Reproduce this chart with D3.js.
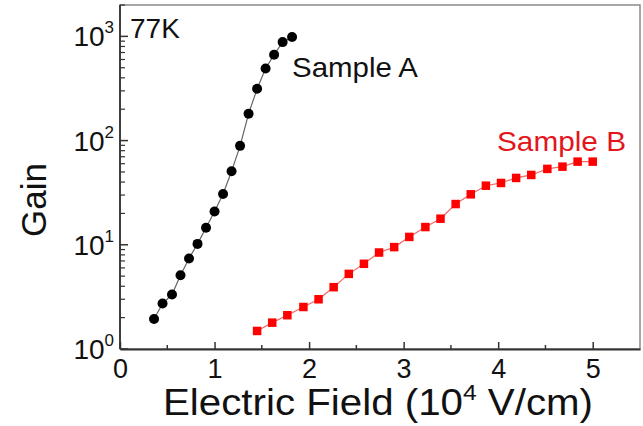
<!DOCTYPE html>
<html>
<head>
<meta charset="utf-8">
<script src="https://cdn.jsdelivr.net/npm/d3@7"></script>
<style>
  body { margin: 0; background: #fff; }
  text { font-family: "Liberation Sans", Arial, sans-serif; }
</style>
</head>
<body>
<div id="chart"></div>
<script>
// data ---------------------------------------------------------------------
var fieldA = [0.36, 0.45, 0.55, 0.64, 0.73, 0.82, 0.91, 1.0, 1.09, 1.18, 1.27, 1.36, 1.45, 1.54, 1.63, 1.72, 1.82];
var gainA  = [1.94, 2.73, 3.33, 5.1, 7.4, 10.2, 14.6, 20.9, 30.7, 50.7, 89, 181, 314, 492, 667, 881, 985];

var fieldB = [1.45, 1.61, 1.77, 1.94, 2.10, 2.26, 2.42, 2.58, 2.74, 2.90, 3.06, 3.23, 3.39, 3.55, 3.71, 3.87, 4.03, 4.19, 4.35, 4.52, 4.68, 4.84, 5.0];
var gainB  = [1.49, 1.79, 2.11, 2.53, 3.0, 3.92, 5.26, 6.57, 8.43, 9.5, 11.9, 14.8, 17.8, 24.6, 30.5, 36.9, 39.2, 43.8, 46.8, 53.5, 56.2, 62.8, 62.8];

var xTicks = [0, 1, 2, 3, 4, 5];
var xMinor = [0.5, 1.5, 2.5, 3.5, 4.5];
var yExps  = [0, 1, 2, 3];

var width = 643, height = 426;
// plot box (note: "top" is taken by window.top, so use pTop etc.)
var pLeft = 120, pRight = 640, pTop = 5, pBottom = 349;

var svg = d3.select("#chart").append("svg")
    .attr("width", width)
    .attr("height", height);

var x = d3.scaleLinear().domain([0, 5.5]).range([pLeft, pRight]);
var y = d3.scaleLog().domain([1, 2000]).range([pBottom, pTop]);

// frame ----------------------------------------------------------------------
svg.append("rect")
    .attr("x", pLeft).attr("y", pTop)
    .attr("width", pRight - pLeft).attr("height", pBottom - pTop)
    .attr("fill", "none")
    .attr("stroke", "#8a8a8a")
    .attr("stroke-width", 1.5);

// x axis, ticks pointing inward
var xAxis = svg.append("g")
    .attr("transform", "translate(0," + pBottom + ")")
    .call(d3.axisBottom(x).tickValues(xTicks).tickSizeInner(-7).tickSizeOuter(0).tickPadding(10).tickFormat(d3.format("d")));
xAxis.select(".domain").attr("stroke", "#333").attr("stroke-width", 1.8);
xAxis.selectAll(".tick line").attr("stroke", "#333").attr("stroke-width", 1.5);
xAxis.selectAll(".tick text")
    .attr("font-size", 27)
    .attr("fill", "#111")
    .attr("dy", "0.72em");

svg.append("g").selectAll("line")
    .data(xMinor)
  .enter().append("line")
    .attr("x1", x).attr("x2", x)
    .attr("y1", pBottom).attr("y2", pBottom - 4)
    .attr("stroke", "#333").attr("stroke-width", 1.5);

// y axis (log), major and minor ticks inward
svg.append("line")
    .attr("x1", pLeft).attr("x2", pLeft)
    .attr("y1", pTop).attr("y2", pBottom)
    .attr("stroke", "#333").attr("stroke-width", 1.8);

var minor = [];
yExps.forEach(function(e) {
  d3.range(2, 10).forEach(function(m) {
    var v = m * Math.pow(10, e);
    if (v <= 2000) minor.push(v);
  });
});

svg.append("g").selectAll("line")
    .data(minor)
  .enter().append("line")
    .attr("x1", pLeft).attr("x2", pLeft + 5)
    .attr("y1", y).attr("y2", y)
    .attr("stroke", "#333").attr("stroke-width", 1.2);

var gy = svg.append("g").selectAll("g")
    .data(yExps)
  .enter().append("g")
    .attr("transform", function(d) { return "translate(0," + y(Math.pow(10, d)) + ")"; });

gy.append("line")
    .attr("x1", pLeft).attr("x2", pLeft + 8)
    .attr("stroke", "#333").attr("stroke-width", 1.5);

var lab = gy.append("text")
    .attr("x", 114)
    .attr("y", 10)
    .attr("text-anchor", "end")
    .attr("fill", "#111")
    .attr("font-size", 28);
lab.append("tspan").text("10");
lab.append("tspan")
    .attr("font-size", 17)
    .attr("dy", -13)
    .text(function(d) { return d; });

// series ---------------------------------------------------------------------
var dataA = fieldA.map(function(f, i) { return { x: f, y: gainA[i] }; });
var dataB = fieldB.map(function(f, i) { return { x: f, y: gainB[i] }; });

var line = d3.line()
    .x(function(d) { return x(d.x); })
    .y(function(d) { return y(d.y); });

svg.append("path")
    .attr("d", line(dataA))
    .attr("fill", "none")
    .attr("stroke", "#666")
    .attr("stroke-width", 1.2);

svg.append("g").selectAll("circle")
    .data(dataA)
  .enter().append("circle")
    .attr("cx", function(d) { return x(d.x); })
    .attr("cy", function(d) { return y(d.y); })
    .attr("r", 5)
    .attr("fill", "#000");

svg.append("path")
    .attr("d", line(dataB))
    .attr("fill", "none")
    .attr("stroke", "#f06a6a")
    .attr("stroke-width", 1.2);

var sq = 8.5;
svg.append("g").selectAll("rect")
    .data(dataB)
  .enter().append("rect")
    .attr("x", function(d) { return x(d.x) - sq / 2; })
    .attr("y", function(d) { return y(d.y) - sq / 2; })
    .attr("width", sq).attr("height", sq)
    .attr("fill", "#ff0000");

// labels ---------------------------------------------------------------------
svg.append("text")
    .attr("x", 130).attr("y", 38)
    .attr("font-size", 28)
    .attr("fill", "#111")
    .text("77K");

svg.append("text")
    .attr("x", 292).attr("y", 77)
    .attr("font-size", 28)
    .attr("textLength", 126)
    .attr("lengthAdjust", "spacingAndGlyphs")
    .attr("fill", "#111")
    .text("Sample A");

svg.append("text")
    .attr("x", 497).attr("y", 151)
    .attr("font-size", 28)
    .attr("textLength", 129)
    .attr("lengthAdjust", "spacingAndGlyphs")
    .attr("fill", "#e3161c")
    .text("Sample B");

svg.append("text")
    .attr("transform", "translate(46,200) rotate(-90)")
    .attr("text-anchor", "middle")
    .attr("font-size", 35)
    .attr("fill", "#111")
    .text("Gain");

var xt = svg.append("text")
    .attr("x", 163).attr("y", 415)
    .attr("font-size", 36)
    .attr("textLength", 430)
    .attr("lengthAdjust", "spacingAndGlyphs")
    .attr("fill", "#111");
xt.append("tspan").text("Electric Field (10");
xt.append("tspan").attr("font-size", 22).attr("dy", -15).text("4");
xt.append("tspan").attr("dy", 15).text(" V/cm)");
</script>
</body>
</html>
